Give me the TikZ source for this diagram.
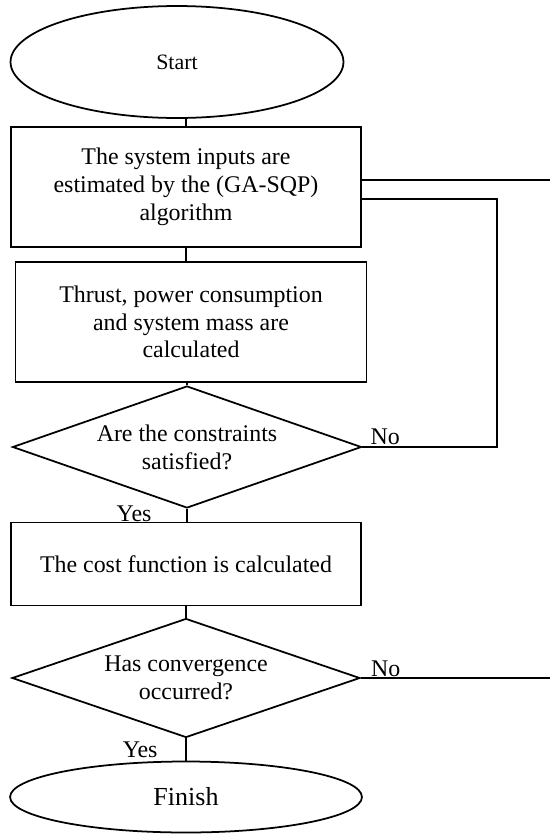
\documentclass[tikz,border=0pt]{standalone}
\usepackage{fontspec}
\setmainfont{Liberation Serif}
\usetikzlibrary{positioning,shapes.geometric,calc}
\tikzset{
  term/.style={draw, ellipse, line width=1pt, inner sep=0pt, font=\fontsize{12.5}{15.6}\selectfont},
  proc/.style={draw, rectangle, line width=1pt, align=center, inner sep=0pt, font=\fontsize{13.6}{15.8}\selectfont},
  dec/.style={draw, diamond, line width=1pt, aspect=2.86, inner sep=0pt, align=center, font=\fontsize{13.6}{15.8}\selectfont},
  lbl/.style={inner sep=0pt, font=\fontsize{13.6}{15.8}\selectfont},
  flow/.style={line width=1.5pt},
  back/.style={line width=1.1pt},
}
\begin{document}
\begin{tikzpicture}[x=0.02cm, y=-0.02cm]
  \useasboundingbox (0,0) rectangle (550,836);
  % main column
  \node[term, minimum width=6.66cm, minimum height=2.24cm] (start) at (177,62) {Start};
  \node[proc, minimum width=7cm, minimum height=2.4cm] (inputs) at (186,187) {The system inputs are\\estimated by the (GA-SQP)\\algorithm};
  \node[proc, minimum width=7.02cm, minimum height=2.4cm] (calc) at (191,322) {Thrust, power consumption\\and system mass are\\calculated};
  \node[dec, minimum width=6.98cm, minimum height=2.44cm] (check) at (187,447) {Are the constraints\\satisfied?};
  \node[proc, minimum width=7cm, minimum height=1.66cm] (cost) at (186,564) {The cost function is calculated};
  \node[dec, minimum width=6.96cm, minimum height=2.38cm] (conv) at (186,678) {Has convergence\\occurred?};
  \node[term, minimum width=7.04cm, minimum height=1.42cm, font=\fontsize{14.8}{17}\selectfont] (finish) at (186,797) {Finish};

  \draw[flow] (start.south -| inputs.north) -- (inputs.north);
  \draw[flow] (inputs.south) -- (inputs.south |- calc.north);
  \draw[flow] (calc.south -| check.north) -- (check.north);
  \draw[flow] (check.south) -- (check.south |- cost.north);
  \draw[flow] (cost.south -| conv.north) -- (conv.north);
  \draw[flow] (conv.south) -- (conv.south |- finish.north);

  % loops
  \coordinate (reentry) at ($(inputs.east)+(0,12)$);
  \coordinate (turn) at ($(check.east)+(135,0)$);
  \draw[back] (check.east) -- (turn) |- (reentry);
  \coordinate (out1) at (550,180);
  \draw[back] (inputs.east |- out1) -- (out1);
  \coordinate (out2) at (550,678);
  \draw[back] (conv.east) -- (out2);

  \node[lbl, above right=1pt and 4.5pt of check.east] (no1) {No};
  \node[lbl, above right=0.5pt and 5.7pt of conv.east] (no2) {No};
  \node[lbl, below left=-1.7pt and 20pt of check.south] (yes1) {Yes};
  \node[lbl, below left=1.7pt and 16pt of conv.south] (yes2) {Yes};
\end{tikzpicture}
\end{document}
